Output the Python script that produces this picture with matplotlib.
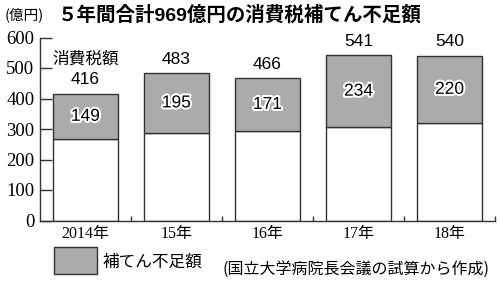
import matplotlib
matplotlib.use('Agg')
import matplotlib.pyplot as plt
import matplotlib.patheffects as pe
from matplotlib.patches import Rectangle
import numpy as np

# --- Data:

years = ['2014年', '15年', '16年', '17年', '18年']
tax_total = [416, 483, 466, 541, 540]   # 消費税額
shortfall = [149, 195, 171, 234, 220]   # 補てん不足額

# --- Styling:

W, H = 500, 284
gray = '#ababab'
edge = '#333333'
sans = ['Liberation Sans', 'Noto Sans CJK JP']
serif = ['Liberation Serif', 'Noto Sans CJK JP']
jp = ['Noto Sans CJK JP']

def fy(px):
    return 1 - px / H

fig = plt.figure(figsize=(W / 100, H / 100), dpi=100)
ax = fig.add_axes([40 / W, 1 - 220.5 / H, 455 / W, 183 / H])

x = np.arange(len(years))
covered = [t - s for t, s in zip(tax_total, shortfall)]

ax.bar(x, covered, width=0.714, color='white', edgecolor=edge, linewidth=1.0, zorder=2)
ax.bar(x, shortfall, bottom=covered, width=0.714, color=gray, edgecolor=edge, linewidth=1.0, zorder=2)

for xi, t, s, c in zip(x, tax_total, shortfall, covered):
    ax.annotate(str(t), (xi, t), xytext=(0, 10), textcoords='offset points',
                ha='center', va='center', fontsize=12.5, family=sans)
    ax.text(xi, c + s / 2, str(s), ha='center', va='center', fontsize=12.5, family=sans,
            path_effects=[pe.withStroke(linewidth=3, foreground='white')], zorder=3)

ax.annotate('消費税額', (0, tax_total[0]), xytext=(0, 24.5), textcoords='offset points',
            ha='center', va='center', fontsize=12, family=jp)

ax.set_xlim(-0.5, 4.5)
ax.set_ylim(0, 600)
ax.set_yticks(range(0, 601, 100))
ax.set_yticklabels([str(v) for v in range(0, 601, 100)], family=serif, fontsize=13.5)
ax.set_xticks(x)
ax.set_xticklabels(years, family=serif, fontsize=11.5)
ax.set_xticks(np.arange(0.5, 4.6, 1), minor=True)
ax.tick_params(axis='y', direction='in', length=8.5, width=1, pad=4, color=edge)
ax.tick_params(axis='x', which='major', length=0, pad=4)
ax.tick_params(axis='x', which='minor', direction='in', length=3.5, width=1, color=edge)

for side in ['top', 'right']:
    ax.spines[side].set_visible(False)
for side in ['left', 'bottom']:
    ax.spines[side].set_color(edge)
    ax.spines[side].set_linewidth(1)

# --- Titles and notes:

fig.text(5 / W, fy(15), '(億円)', ha='left', va='center', fontsize=10.5, family=jp)
fig.text(58 / W, fy(15), '５年間合計969億円の消費税補てん不足額', ha='left', va='center',
         fontsize=14, fontweight='bold', family=sans)

fig.patches.append(Rectangle((54 / W, fy(274)), 43 / W, 27 / H, transform=fig.transFigure,
                             facecolor=gray, edgecolor=edge, linewidth=1))
fig.text(103 / W, fy(262), '補てん不足額', ha='left', va='center', fontsize=12, family=jp)
fig.text(490 / W, fy(269), '(国立大学病院長会議の試算から作成)', ha='right', va='center',
         fontsize=11.5, family=jp)

fig.savefig('out.png', dpi=100)
